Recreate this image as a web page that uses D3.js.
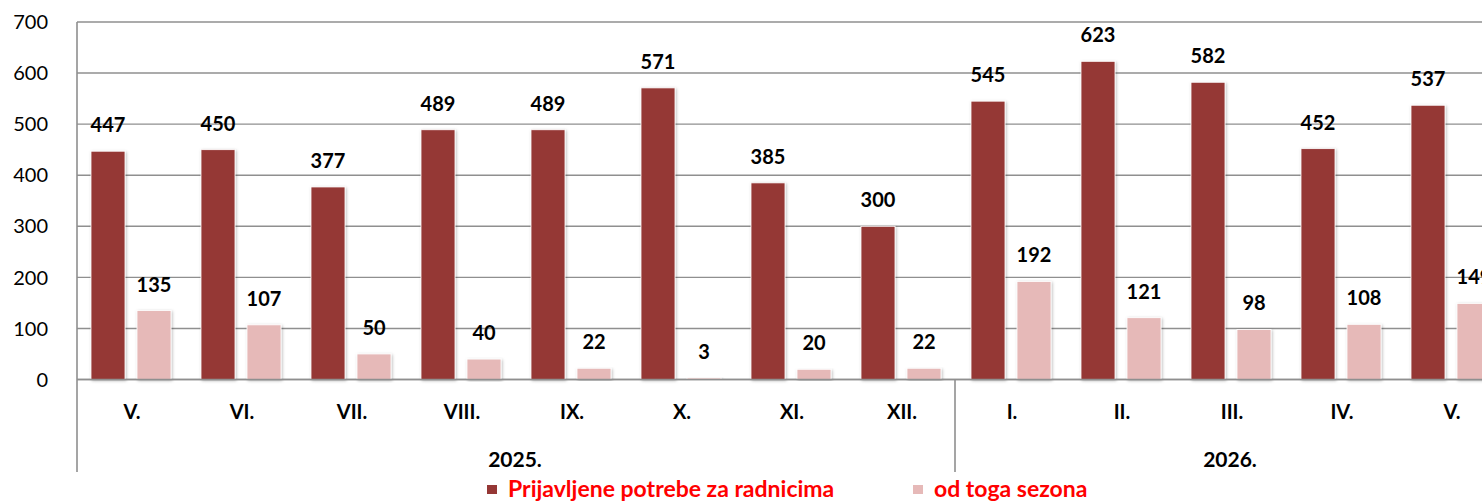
<!DOCTYPE html>
<html>
<head>
<meta charset="utf-8">
<script src="https://cdn.jsdelivr.net/npm/d3@7"></script>
<style>
  html, body { margin: 0; padding: 0; background: #fff; }
  svg { display: block; }
  text { font-family: Lato, "Open Sans", sans-serif; }
</style>
</head>
<body>
<svg id="chart" width="1482" height="503"></svg>
<script>
const months = ["V.", "VI.", "VII.", "VIII.", "IX.", "X.", "XI.", "XII.", "I.", "II.", "III.", "IV.", "V."];
const years = [
  { label: "2025.", from: 0, to: 8 },
  { label: "2026.", from: 8, to: 13 }
];
const seriesNames = ["Prijavljene potrebe za radnicima", "od toga sezona"];
const seriesColors = ["#953735", "#E6B9B8"];
const totalValues = [447, 450, 377, 489, 489, 571, 385, 300, 545, 623, 582, 452, 537];
const seasonValues = [135, 107, 50, 40, 22, 3, 20, 22, 192, 121, 98, 108, 149];
const yTicks = [0, 100, 200, 300, 400, 500, 600, 700];

const svg = d3.select("#chart");
const W = 1482, H = 503;
const left = 77, bandW = 110;
const yTop = 22, yBottom = 379.5, axisBottom = 472;

const defs = svg.append("defs");
const f = defs.append("filter").attr("id", "shadow").attr("x", "-30%").attr("y", "-10%").attr("width", "160%").attr("height", "120%");
f.append("feDropShadow").attr("dx", 1).attr("dy", 1).attr("stdDeviation", 1.6)
  .attr("flood-color", "#000").attr("flood-opacity", 0.28);

const idx = months.map((_, i) => i);
const x0 = d3.scaleBand().domain(idx).range([left, left + bandW * months.length]).paddingInner(0).paddingOuter(0);
const x1 = d3.scaleBand().domain([0, 1]).range([14, 94]).paddingInner(12 / 46).paddingOuter(0);
const y = d3.scaleLinear().domain([0, 700]).range([yBottom, yTop]);

// gridlines
svg.append("g").selectAll("line").data(yTicks).join("line")
  .attr("x1", left).attr("x2", W)
  .attr("y1", d => y(d)).attr("y2", d => y(d))
  .attr("stroke", "#8f8f8f").attr("stroke-width", 1.4);

// y tick labels
svg.append("g").selectAll("text").data(yTicks).join("text")
  .attr("x", 48).attr("y", d => y(d)).attr("dy", "0.36em")
  .attr("text-anchor", "end").attr("font-size", 20).attr("fill", "#000")
  .text(d => d);

// left axis line
svg.append("line").attr("x1", left).attr("x2", left).attr("y1", yTop).attr("y2", axisBottom)
  .attr("stroke", "#8f8f8f").attr("stroke-width", 1.6);

// year separators
years.slice(1).forEach(yr => {
  svg.append("line").attr("x1", x0(yr.from) - 2).attr("x2", x0(yr.from) - 2)
    .attr("y1", yBottom).attr("y2", axisBottom)
    .attr("stroke", "#8f8f8f").attr("stroke-width", 1.6);
});

// bars
const seriesData = [totalValues, seasonValues];
const gBars = svg.append("g");
seriesData.forEach((vals, s) => {
  gBars.append("g").selectAll("rect").data(vals).join("rect")
    .attr("x", (d, i) => x0(i) + x1(s))
    .attr("width", x1.bandwidth())
    .attr("y", d => y(d))
    .attr("height", d => y(0) - y(d))
    .attr("fill", seriesColors[s])
    .attr("stroke", "#fff").attr("stroke-width", 0.8)
    .attr("filter", "url(#shadow)");
});

// zero line on top
svg.append("line").attr("x1", left).attr("x2", W).attr("y1", y(0)).attr("y2", y(0))
  .attr("stroke", "#8f8f8f").attr("stroke-width", 1.6);

// data labels
seriesData.forEach((vals, s) => {
  svg.append("g").selectAll("text").data(vals).join("text")
    .attr("x", (d, i) => x0(i) + x1(s) + x1.bandwidth() / 2)
    .attr("y", d => y(d) - 19)
    .attr("text-anchor", "middle").attr("font-size", 20).attr("font-weight", 700)
    .attr("fill", "#000")
    .text(d => d);
});

// month labels
svg.append("g").selectAll("text").data(months).join("text")
  .attr("x", (d, i) => x0(i) + bandW / 2)
  .attr("y", 419)
  .attr("text-anchor", "middle").attr("font-size", 20).attr("font-weight", 700)
  .attr("fill", "#000")
  .text(d => d);

// year labels
svg.append("g").selectAll("text").data(years).join("text")
  .attr("x", d => (x0(d.from) + x0(d.to - 1) + bandW) / 2 - 2)
  .attr("y", 467)
  .attr("text-anchor", "middle").attr("font-size", 21).attr("font-weight", 700)
  .attr("fill", "#000")
  .text(d => d.label);

// legend
const legendPos = [487, 913];
seriesNames.forEach((name, s) => {
  svg.append("rect").attr("x", legendPos[s]).attr("y", 485).attr("width", 10).attr("height", 9)
    .attr("fill", seriesColors[s]);
  svg.append("text").attr("x", legendPos[s] + 21).attr("y", 497)
    .attr("font-size", 23).attr("font-weight", 700).attr("fill", "#FF0000")
    .text(name);
});
</script>
</body>
</html>
